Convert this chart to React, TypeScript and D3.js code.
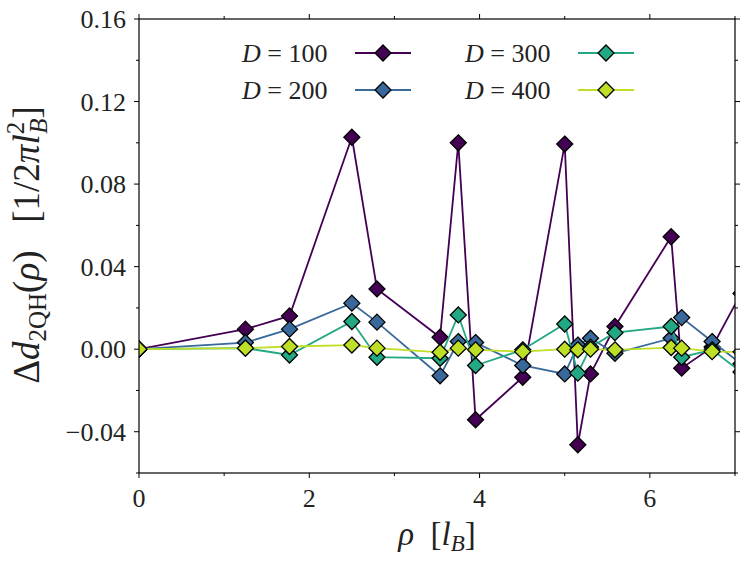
import React from 'react';
import * as d3 from 'd3';

// rho positions (in l_B) and the four D series
const rho = [0, 1.25, 1.768, 2.5, 2.795, 3.536, 3.75, 3.953, 4.507, 5.0, 5.154, 5.303, 5.59, 6.25, 6.374, 6.731, 7.071];
const d100 = [0, 0.0097, 0.0161, 0.1027, 0.0292, 0.0058, 0.1, -0.0342, -0.0136, 0.0994, -0.0463, -0.012, 0.011, 0.0545, -0.0092, 0.001, 0.027];
const d200 = [0, 0.0032, 0.0097, 0.0223, 0.0131, -0.0129, 0.0037, 0.0032, -0.0079, -0.012, 0.002, 0.0053, -0.002, 0.0053, 0.0153, 0.0037, -0.007];
const d300 = [0, 0.0005, -0.0028, 0.0134, -0.0039, -0.0044, 0.0166, -0.0079, -0.0003, 0.0122, -0.0116, 0.001, 0.008, 0.011, -0.0039, -0.0003, -0.011];
const d400 = [0, 0.0005, 0.0013, 0.002, 0.0005, -0.0015, 0.0005, -0.0003, -0.0012, 0, -0.0003, 0, -0.0003, 0.0008, 0.0005, -0.0012, -0.0013];

const seriesLabels = ['100', '200', '300', '400'];
const seriesValues = [d100, d200, d300, d400];
const seriesColors = ['#440154', '#39699a', '#22a884', '#bddf26'];

const xMajor = [0, 2, 4, 6];
const xMinor = [1, 3, 5, 7];
const yMajor = [-0.04, 0, 0.04, 0.08, 0.12, 0.16];
const yMinor = [-0.06, -0.02, 0.02, 0.06, 0.1, 0.14];

const W = 748;
const H = 564;
const left = 139;
const right = 735;
const top = 19;
const bottom = 473;

const FONT = "'Liberation Serif', 'DejaVu Serif', serif";

const fmtY = (v: number) => {
  const s = Math.abs(v).toFixed(2);
  return v < -1e-9 ? '\u2212' + s : s;
};

const App = () => {
  const x = d3.scaleLinear().domain([0, 7]).range([left, right]);
  const y = d3.scaleLinear().domain([-0.06, 0.16]).range([bottom, top]);

  const line = d3
    .line<[number, number]>()
    .x((d) => x(d[0]))
    .y((d) => y(d[1]));

  const diamond = (cx: number, cy: number, r: number) =>
    `M${cx},${cy - r}L${cx + r},${cy}L${cx},${cy + r}L${cx - r},${cy}Z`;

  const legendPos = [
    { tx: 242, lx: 355, cy: 53 },
    { tx: 242, lx: 355, cy: 90 },
    { tx: 465, lx: 578, cy: 53 },
    { tx: 465, lx: 578, cy: 90 },
  ];

  return (
    <svg width={W} height={H} style={{ position: 'absolute', left: 0, top: 0, fontFamily: FONT }}>
      <defs>
        <clipPath id="plot">
          <rect x={left} y={top} width={right - left} height={bottom - top} />
        </clipPath>
      </defs>
      <rect width={W} height={H} fill="#fff" />

      <g clipPath="url(#plot)">
        {seriesValues.map((vals, i) => {
          const pts = rho.map((r, j) => [r, vals[j]] as [number, number]);
          return (
            <g key={i}>
              <path d={line(pts) || ''} fill="none" stroke={seriesColors[i]} strokeWidth={1.8} />
              {pts.map((p, j) => (
                <path
                  key={j}
                  d={diamond(x(p[0]), y(p[1]), 8)}
                  fill={seriesColors[i]}
                  stroke="#000"
                  strokeWidth={1.3}
                />
              ))}
            </g>
          );
        })}
      </g>

      {/* frame */}
      <rect x={left} y={top} width={right - left} height={bottom - top} fill="none" stroke="#000" strokeWidth={1.2} />

      {/* ticks, pointing outward on every side */}
      <g stroke="#000" strokeWidth={1}>
        {xMajor.map((v) => (
          <g key={'xM' + v}>
            <line x1={x(v)} x2={x(v)} y1={bottom} y2={bottom + 5} />
            <line x1={x(v)} x2={x(v)} y1={top} y2={top - 5} />
          </g>
        ))}
        {xMinor.map((v) => (
          <g key={'xm' + v}>
            <line x1={x(v)} x2={x(v)} y1={bottom} y2={bottom + 3} />
            <line x1={x(v)} x2={x(v)} y1={top} y2={top - 3} />
          </g>
        ))}
        {yMajor.map((v) => (
          <g key={'yM' + v}>
            <line x1={left} x2={left - 5} y1={y(v)} y2={y(v)} />
            <line x1={right} x2={right + 5} y1={y(v)} y2={y(v)} />
          </g>
        ))}
        {yMinor.map((v) => (
          <g key={'ym' + v}>
            <line x1={left} x2={left - 3} y1={y(v)} y2={y(v)} />
            <line x1={right} x2={right + 3} y1={y(v)} y2={y(v)} />
          </g>
        ))}
      </g>

      <g fontSize={26} fill="#222">
        {xMajor.map((v) => (
          <text key={'xl' + v} x={x(v)} y={bottom + 34} textAnchor="middle">
            {v}
          </text>
        ))}
        {yMajor.map((v) => (
          <text key={'yl' + v} x={left - 13} y={y(v) + 9} textAnchor="end">
            {fmtY(v)}
          </text>
        ))}
      </g>

      {/* axis labels */}
      <text x={437} y={545} textAnchor="middle" fontSize={33} fill="#222">
        <tspan fontStyle="italic">ρ</tspan>
        <tspan>{'\u00a0\u00a0['}</tspan>
        <tspan fontStyle="italic">l</tspan>
        <tspan fontStyle="italic" fontSize={23} dy={6}>B</tspan>
        <tspan dy={-6}>]</tspan>
      </text>

      <text transform="translate(39,245) rotate(-90)" textAnchor="middle" fontSize={37} fill="#222">
        <tspan>Δ</tspan>
        <tspan fontStyle="italic">d</tspan>
        <tspan fontSize={25} dy={7}>2QH</tspan>
        <tspan dy={-7}>(</tspan>
        <tspan fontStyle="italic">ρ</tspan>
        <tspan>{')\u00a0\u00a0\u00a0[1/2'}</tspan>
        <tspan fontStyle="italic">πl</tspan>
        <tspan fontSize={25} dy={-15}>2</tspan>
        <tspan fontSize={25} fontStyle="italic" dx={-12} dy={23}>B</tspan>
        <tspan dy={-8}>]</tspan>
      </text>

      {/* legend */}
      {legendPos.map((p, i) => (
        <g key={'lg' + i}>
          <text x={p.tx} y={p.cy + 9} fontSize={26} fill="#222">
            <tspan fontStyle="italic">D</tspan>
            <tspan>{'\u00a0=\u00a0' + seriesLabels[i]}</tspan>
          </text>
          <line x1={p.lx} x2={p.lx + 56} y1={p.cy} y2={p.cy} stroke={seriesColors[i]} strokeWidth={1.8} />
          <path d={diamond(p.lx + 28, p.cy, 8)} fill={seriesColors[i]} stroke="#000" strokeWidth={1.3} />
        </g>
      ))}
    </svg>
  );
};

export default App;
